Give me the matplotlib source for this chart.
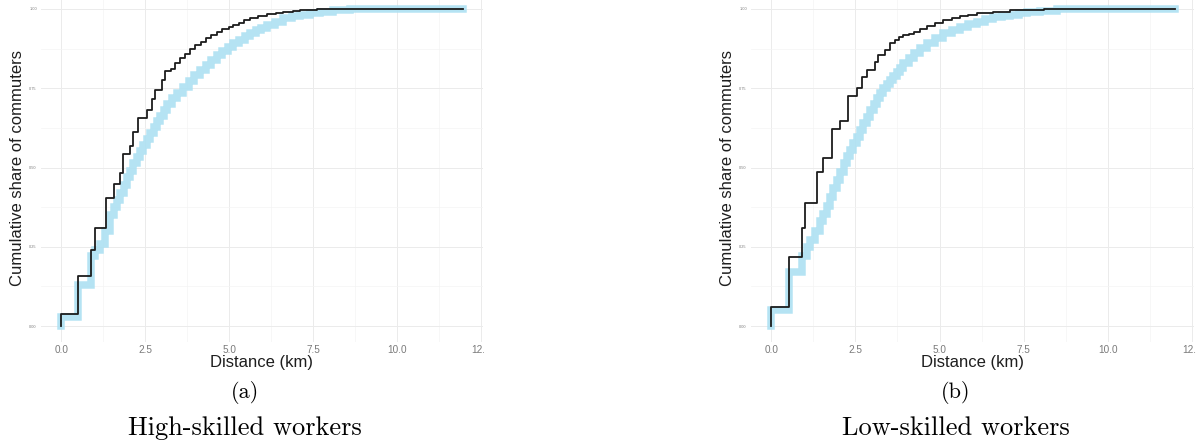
import matplotlib
matplotlib.use("Agg")
import matplotlib.pyplot as plt
from matplotlib.ticker import MultipleLocator
from matplotlib.transforms import Bbox, TransformedBbox

# observed commuting distances (black step) and simulated ones (blue band)
hs_obs_x = [0.0, 0.0, 0.50, 0.88, 1.01, 1.34, 1.56, 1.76, 1.84, 2.05, 2.15, 2.30, 2.55, 2.70, 2.80,
            3.00, 3.10, 3.27, 3.40, 3.54, 3.70, 3.85, 4.00, 4.15, 4.30, 4.45, 4.63, 4.80, 5.00, 5.13,
            5.30, 5.45, 5.62, 5.85, 6.12, 6.40, 6.62, 6.90, 7.11, 7.40, 7.61, 8.10, 8.60, 11.96]
hs_obs_y = [0.0, 0.037, 0.158, 0.24, 0.308, 0.405, 0.447, 0.484, 0.543, 0.569, 0.613, 0.655, 0.681,
            0.715, 0.744, 0.776, 0.803, 0.81, 0.828, 0.844, 0.858, 0.872, 0.886, 0.897, 0.908, 0.918,
            0.927, 0.936, 0.944, 0.95, 0.956, 0.965, 0.972, 0.978, 0.983, 0.986, 0.989, 0.992, 0.995,
            0.997, 0.999, 1.0, 1.0, 1.0]
hs_sim_x = [0.0, 0.0, 0.50, 0.88, 1.01, 1.16, 1.30, 1.45, 1.56, 1.66, 1.76, 1.86, 1.96, 2.05, 2.15,
            2.25, 2.35, 2.45, 2.55, 2.65, 2.75, 2.85, 2.95, 3.05, 3.15, 3.30, 3.45, 3.64, 3.80, 3.97,
            4.14, 4.30, 4.46, 4.63, 4.80, 4.96, 5.13, 5.30, 5.46, 5.62, 5.79, 5.95, 6.12, 6.37, 6.62,
            6.87, 7.11, 7.40, 7.70, 8.10, 8.60, 9.10, 11.96]
hs_sim_y = [0.0, 0.03, 0.13, 0.22, 0.24, 0.26, 0.30, 0.35, 0.375, 0.397, 0.42, 0.445, 0.47, 0.49,
            0.513, 0.532, 0.552, 0.571, 0.59, 0.608, 0.627, 0.645, 0.663, 0.682, 0.70, 0.718, 0.736,
            0.755, 0.773, 0.79, 0.808, 0.824, 0.84, 0.855, 0.868, 0.88, 0.892, 0.903, 0.913, 0.923,
            0.932, 0.941, 0.95, 0.96, 0.97, 0.976, 0.981, 0.986, 0.991, 0.996, 0.999, 1.0, 1.0]

ls_obs_x = [0.0, 0.0, 0.53, 0.91, 1.01, 1.36, 1.55, 1.80, 2.05, 2.29, 2.54, 2.69, 2.84, 3.09, 3.16,
            3.38, 3.53, 3.68, 3.80, 3.93, 4.08, 4.23, 4.42, 4.62, 4.86, 5.11, 5.36, 5.61, 5.85, 6.10,
            6.60, 7.09, 7.59, 8.10, 8.60, 11.99]
ls_obs_y = [0.0, 0.061, 0.217, 0.308, 0.389, 0.487, 0.529, 0.62, 0.648, 0.724, 0.75, 0.784, 0.808,
            0.834, 0.855, 0.871, 0.892, 0.902, 0.91, 0.918, 0.922, 0.926, 0.936, 0.946, 0.956, 0.965,
            0.972, 0.978, 0.982, 0.986, 0.991, 0.995, 0.997, 0.999, 1.0, 1.0]
ls_sim_x = [0.0, 0.0, 0.54, 0.91, 1.05, 1.16, 1.30, 1.45, 1.55, 1.65, 1.75, 1.85, 1.95, 2.05, 2.15,
            2.25, 2.34, 2.44, 2.54, 2.64, 2.74, 2.84, 2.94, 3.04, 3.13, 3.23, 3.33, 3.43, 3.53, 3.63,
            3.73, 3.83, 3.93, 4.08, 4.23, 4.42, 4.62, 4.86, 5.11, 5.36, 5.61, 5.85, 6.10, 6.35, 6.60,
            6.85, 7.09, 7.35, 7.59, 8.00, 8.50, 9.00, 11.99]
ls_sim_y = [0.0, 0.05, 0.17, 0.22, 0.25, 0.27, 0.30, 0.33, 0.355, 0.38, 0.408, 0.435, 0.46, 0.487,
            0.513, 0.535, 0.555, 0.576, 0.597, 0.619, 0.64, 0.66, 0.681, 0.70, 0.718, 0.735, 0.75,
            0.763, 0.776, 0.789, 0.802, 0.815, 0.829, 0.845, 0.86, 0.876, 0.892, 0.908, 0.923, 0.934,
            0.944, 0.952, 0.96, 0.967, 0.973, 0.978, 0.982, 0.986, 0.99, 0.994, 0.998, 1.0, 1.0]

x_ticks = [0.0, 2.5, 5.0, 7.5, 10.0, 12.5]
x_labels = ["0.0", "2.5", "5.0", "7.5", "10.0", "12.5"]
y_ticks = [0.0, 0.25, 0.5, 0.75, 1.0]
y_labels = ["0.00", "0.25", "0.50", "0.75", "1.00"]
panel_tags = ["(a)", "(b)"]
panel_titles = ["High-skilled workers", "Low-skilled workers"]

W, H = 1203, 445
fig = plt.figure(figsize=(W / 100, H / 100), dpi=100)
sans = "Liberation Sans"
serif = ["cmr10", "DejaVu Serif"]


def draw_panel(left_px, right_px, obs_x, obs_y, sim_x, sim_y, clip_px, tag, title):
    ax = fig.add_axes([left_px / W, (H - 342) / H, (right_px - left_px) / W, 349 / H])
    ax.set_xlim(-0.6, 12.56)
    ax.set_ylim(-0.05, 1.05)
    for s in ax.spines.values():
        s.set_visible(False)
    ax.xaxis.set_minor_locator(MultipleLocator(1.25))
    ax.yaxis.set_minor_locator(MultipleLocator(0.125))
    ax.grid(True, which="major", color="#ebebeb", lw=0.7)
    ax.grid(True, which="minor", color="#f4f4f4", lw=0.5)
    ax.set_axisbelow(True)
    ax.tick_params(which="both", length=0)
    ax.tick_params(axis="x", labelsize=7.2, labelcolor="#7a7a7a", pad=2)
    ax.tick_params(axis="y", labelsize=2.8, labelcolor="#7a7a7a", pad=3)
    ax.set_xticks(x_ticks, x_labels, fontfamily=sans)
    ax.set_yticks(y_ticks, y_labels, fontfamily=sans)

    # simulated distributions as a wide light-blue band, observed on top
    ax.step(sim_x, sim_y, where="post", color="#ade0f2", lw=5.4, alpha=0.9,
            solid_joinstyle="miter")
    ax.step(obs_x, obs_y, where="post", color="#1c1c1c", lw=1.3)

    ax.set_xlabel("Distance (km)", fontsize=12, fontfamily=sans, color="#1e1e1e", labelpad=0)
    ax.set_ylabel("Cumulative share of commuters", fontsize=12, fontfamily=sans,
                  color="#1e1e1e", labelpad=3)

    # the panel image ends just past the last tick, cutting its label
    clip = TransformedBbox(Bbox([[0, 0], [clip_px / W, 1]]), fig.transFigure)
    for lab in ax.get_xticklabels():
        lab.set_clip_on(True)
        lab.set_clip_box(clip)

    cx = (left_px + right_px) / 2 / W - 0.014
    fig.text(cx, 1 - 393 / H, tag, ha="center", va="center", fontsize=16, family=serif)
    fig.text(cx, 1 - 428 / H, title, ha="center", va="center", fontsize=19, family=serif)
    return ax


draw_panel(41, 483, hs_obs_x, hs_obs_y, hs_sim_x, hs_sim_y, 484, panel_tags[0], panel_titles[0])
draw_panel(751, 1194, ls_obs_x, ls_obs_y, ls_sim_x, ls_sim_y, 1196, panel_tags[1], panel_titles[1])

fig.savefig("out.png", dpi=100)
